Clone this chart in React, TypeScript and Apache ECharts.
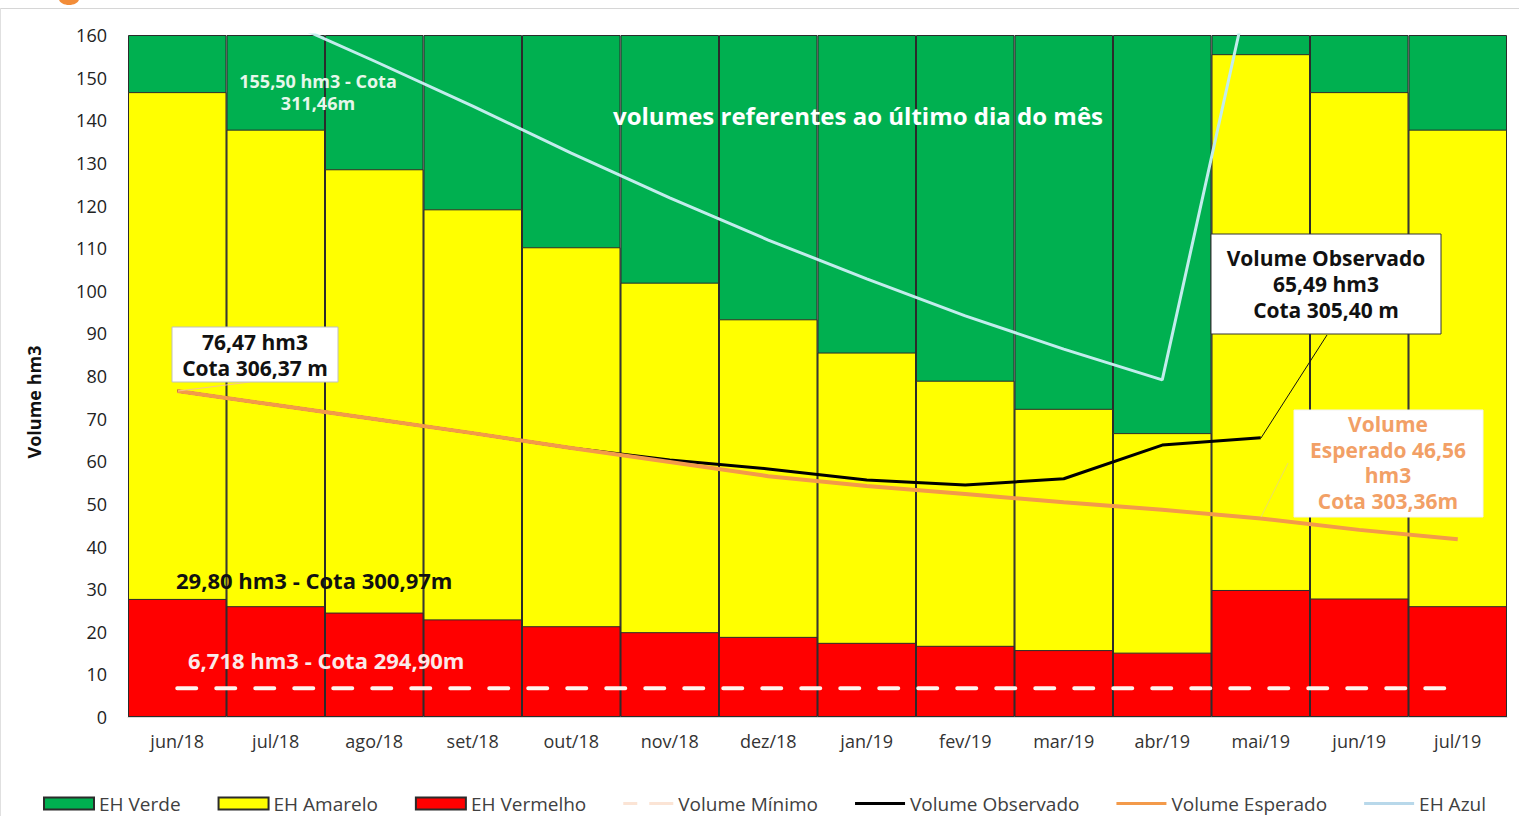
import React, { useEffect, useRef } from "react";
import * as echarts from "echarts";

const categorias = ["jun/18", "jul/18", "ago/18", "set/18", "out/18", "nov/18", "dez/18", "jan/19", "fev/19", "mar/19", "abr/19", "mai/19", "jun/19", "jul/19"];
const ehVerde = [160, 160, 160, 160, 160, 160, 160, 160, 160, 160, 160, 160, 160, 160];
const ehAmarelo = [146.6, 137.8, 128.5, 119.1, 110.2, 101.9, 93.3, 85.5, 78.9, 72.3, 66.6, 155.5, 146.6, 137.8];
const ehVermelho = [27.7, 26.0, 24.5, 22.9, 21.3, 19.9, 18.8, 17.4, 16.7, 15.7, 15.1, 29.8, 27.8, 26.0];
const volumeMinimo = [6.718, 6.718, 6.718, 6.718, 6.718, 6.718, 6.718, 6.718, 6.718, 6.718, 6.718, 6.718, 6.718, 6.718];
const volumeObservado = [76.47, 73.2, 69.9, 66.6, 63.1, 60.3, 58.2, 55.6, 54.4, 55.9, 63.8, 65.49, null, null];
const volumeEsperado = [76.47, 73.2, 69.9, 66.6, 63.1, 59.8, 56.5, 54.2, 52.3, 50.4, 48.6, 46.56, 43.9, 41.7];
const ehAzul = [175, 164.2, 153.9, 143.3, 132.3, 121.8, 111.9, 102.8, 94.1, 86.3, 79.1, 183.5, 186, 188];
const yTicks = { min: 0, max: 160, interval: 10 };

const FONT = "'Open Sans', 'Noto Sans', sans-serif";
const LINE_ICON = "path://M0,0 L50,0 L50,3 L0,3 Z";
const DASH_ICON = "path://M0,0 L14,0 L14,3 L0,3 Z M26,0 L50,0 L50,3 L26,3 Z";

export default function App() {
  const ref = useRef<HTMLDivElement>(null);
  useEffect(() => {
    document.body.style.margin = "0";
    const chart = echarts.init(ref.current!, null, { renderer: "svg" });
    const barBorder = { borderColor: "#2b2b2b", borderWidth: 1 };
    chart.setOption({
      animation: false,
      backgroundColor: "#ffffff",
      textStyle: { fontFamily: FONT },
      grid: { left: 128, right: 12, top: 35, bottom: 99 },
      legend: {
        left: 43,
        top: 794,
        padding: 0,
        itemWidth: 50,
        itemHeight: 12,
        itemGap: 37,
        textStyle: { fontSize: 19, color: "#404040", fontFamily: FONT },
        data: [
          { name: "EH Verde", icon: "rect" },
          { name: "EH Amarelo", icon: "rect" },
          { name: "EH Vermelho", icon: "rect" },
          { name: "Volume Mínimo", icon: DASH_ICON, itemStyle: { color: "#fbe4d5", borderWidth: 0 } },
          { name: "Volume Observado", icon: LINE_ICON, itemStyle: { color: "#000000", borderWidth: 0 } },
          { name: "Volume Esperado", icon: LINE_ICON, itemStyle: { color: "#F39A4A", borderWidth: 0 } },
          { name: "EH Azul", icon: LINE_ICON, itemStyle: { color: "#b8d8ea", borderWidth: 0 } },
        ],
      },
      xAxis: {
        type: "category",
        data: categorias,
        axisLine: { show: true, lineStyle: { color: "#d9d9d9" } },
        axisTick: { show: false },
        axisLabel: { fontSize: 18, color: "#333", margin: 15, fontFamily: FONT },
      },
      yAxis: {
        type: "value",
        min: yTicks.min,
        max: yTicks.max,
        interval: yTicks.interval,
        axisLine: { show: false },
        axisTick: { show: false },
        splitLine: { show: false },
        axisLabel: { fontSize: 18, color: "#222", margin: 21, fontFamily: FONT },
      },
      series: [
        {
          name: "EH Verde", type: "bar", data: ehVerde, barGap: "-100%", barCategoryGap: "0%",
          itemStyle: { color: "#00B050", ...barBorder }, z: 1,
        },
        {
          name: "EH Amarelo", type: "bar", data: ehAmarelo, barGap: "-100%", barCategoryGap: "0%",
          itemStyle: { color: "#FFFF00", ...barBorder }, z: 2,
        },
        {
          name: "EH Vermelho", type: "bar", data: ehVermelho, barGap: "-100%", barCategoryGap: "0%",
          itemStyle: { color: "#FF0000", ...barBorder }, z: 3,
        },
        {
          name: "Volume Mínimo", type: "line", data: volumeMinimo, symbol: "none", z: 4,
          lineStyle: { color: "#fff4ee", width: 4, type: [19, 20], cap: "round" },
          itemStyle: { color: "#fbe4d5" },
        },
        {
          name: "Volume Observado", type: "line", data: volumeObservado, symbol: "none", z: 5,
          lineStyle: { color: "#000000", width: 3 }, itemStyle: { color: "#000000" },
        },
        {
          name: "Volume Esperado", type: "line", data: volumeEsperado, symbol: "none", z: 6,
          lineStyle: { color: "#F39A4A", width: 4 }, itemStyle: { color: "#F39A4A" },
        },
        {
          name: "EH Azul", type: "line", data: ehAzul, symbol: "none", z: 7, clip: true,
          lineStyle: { color: "#c2ecec", width: 3 }, itemStyle: { color: "#b8d8ea" },
        },
      ],
      graphic: [
        { type: "line", shape: { x1: 0, y1: 8.5, x2: 1519, y2: 8.5 }, style: { stroke: "#d6d6d6", lineWidth: 1 }, z: 100 },
        { type: "line", shape: { x1: 0.5, y1: 8, x2: 0.5, y2: 816 }, style: { stroke: "#e0e0e0", lineWidth: 1 }, z: 100 },
        { type: "ellipse", shape: { cx: 69, cy: -1, rx: 10, ry: 6 }, style: { fill: "#F28C38" }, z: 100 },
        {
          type: "text", x: 34, y: 402, rotation: Math.PI / 2, z: 100,
          style: { text: "Volume hm3", align: "center", verticalAlign: "middle", fill: "#111", font: `bold 18px ${FONT}` },
        },
        {
          type: "text", x: 858, y: 115, z: 100,
          style: { text: "volumes referentes ao último dia do mês", align: "center", verticalAlign: "middle", fill: "#ffffff", font: `bold 24px ${FONT}` },
        },
        {
          type: "text", x: 318, y: 70, z: 100,
          style: { text: "155,50 hm3 - Cota\n311,46m", align: "center", lineHeight: 22, fill: "#e6f7ea", font: `bold 18px ${FONT}` },
        },
        { type: "line", shape: { x1: 250, y1: 382, x2: 178, y2: 391 }, style: { stroke: "#f7c48f", lineWidth: 1 }, z: 100 },
        { type: "rect", shape: { x: 172, y: 327, width: 166, height: 55 }, style: { fill: "#ffffff", stroke: "#bfbfbf", lineWidth: 1 }, z: 100 },
        {
          type: "text", x: 255, y: 329, z: 101,
          style: { text: "76,47 hm3\nCota 306,37 m", align: "center", lineHeight: 26, fill: "#111", font: `bold 21px ${FONT}` },
        },
        {
          type: "text", x: 176, y: 580, z: 100,
          style: { text: "29,80 hm3 - Cota 300,97m", verticalAlign: "middle", fill: "#111", font: `bold 22px ${FONT}` },
        },
        {
          type: "text", x: 188, y: 660, z: 100,
          style: { text: "6,718 hm3 - Cota 294,90m", verticalAlign: "middle", fill: "#fbe9e9", font: `bold 22px ${FONT}` },
        },
        { type: "line", shape: { x1: 1327, y1: 335, x2: 1261, y2: 438 }, style: { stroke: "#111", lineWidth: 1 }, z: 100 },
        { type: "rect", shape: { x: 1211, y: 234, width: 230, height: 100 }, style: { fill: "#ffffff", stroke: "#333", lineWidth: 1 }, z: 100 },
        {
          type: "text", x: 1326, y: 245, z: 101,
          style: { text: "Volume Observado\n65,49 hm3\nCota 305,40 m", align: "center", lineHeight: 26, fill: "#111", font: `bold 21px ${FONT}` },
        },
        { type: "line", shape: { x1: 1288, y1: 463, x2: 1261, y2: 517 }, style: { stroke: "#e9dc6a", lineWidth: 1 }, z: 100 },
        { type: "rect", shape: { x: 1294, y: 410, width: 189, height: 107 }, style: { fill: "#ffffff", stroke: "#f2f2f2", lineWidth: 1 }, z: 100 },
        {
          type: "text", x: 1388, y: 411, z: 101,
          style: { text: "Volume\nEsperado 46,56\nhm3\nCota 303,36m", align: "center", lineHeight: 25.7, fill: "#F2A066", font: `bold 21px ${FONT}` },
        },
      ],
    });
    return () => chart.dispose();
  }, []);
  return <div ref={ref} style={{ position: "fixed", left: 0, top: 0, width: 1519, height: 816 }} />;
}
